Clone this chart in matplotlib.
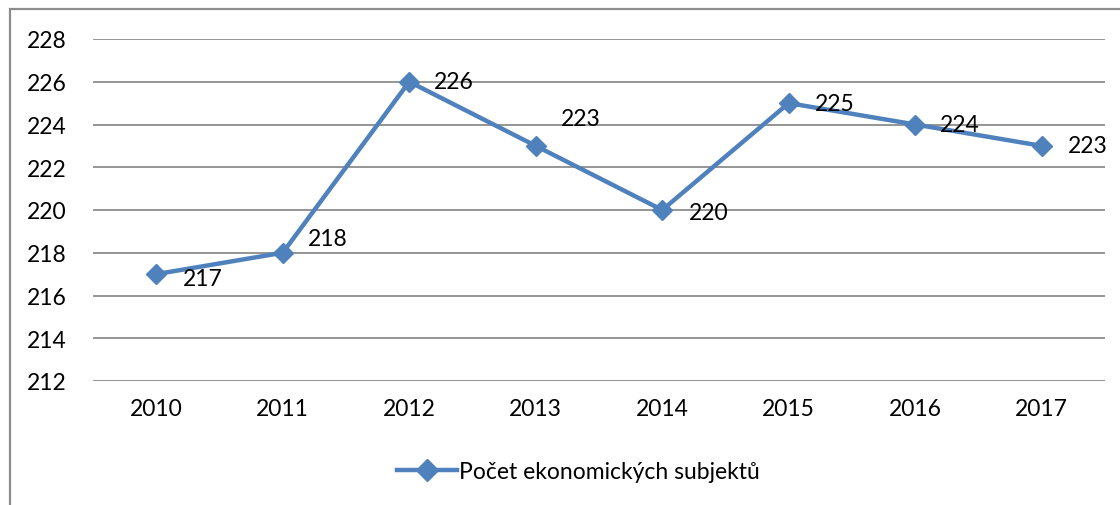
import matplotlib.pyplot as plt
from matplotlib.patches import Rectangle

# --- data ---
years = ['2010', '2011', '2012', '2013', '2014', '2015', '2016', '2017']
values = [217, 218, 226, 223, 220, 225, 224, 223]
series_name = 'Počet ekonomických subjektů'
y_ticks = [212, 214, 216, 218, 220, 222, 224, 226, 228]

# label offsets in points (x, y)
label_off = [(19, -3), (18, 10), (18, 0), (18, 20), (19, -2), (19, 0), (18, 0), (19, 0)]

plt.rcParams['font.family'] = ['Lato', 'DejaVu Sans']
fs = 16.5

fig = plt.figure(figsize=(11.2, 5.06), dpi=100)
ax = fig.add_axes([93 / 1120, 1 - 382 / 506, (1105 - 93) / 1120, (382 - 40) / 506])

blue = '#4F81BD'
x = range(len(years))
ax.plot(x, values, color=blue, lw=3.2, marker='D', markersize=10,
        label=series_name, solid_joinstyle='miter', zorder=3)

for i, v in enumerate(values):
    ax.annotate(str(v), (i, v), xytext=label_off[i], textcoords='offset points',
                ha='left', va='center', fontsize=fs, color='black')

ax.set_xlim(-0.5, len(years) - 0.5)
ax.set_ylim(212, 228)
ax.set_yticks(y_ticks)
ax.set_xticks(list(x))
ax.set_xticklabels(years)
ax.tick_params(axis='both', length=0, labelsize=fs, colors='black')
ax.tick_params(axis='y', pad=19)
ax.tick_params(axis='x', pad=12)
ax.grid(axis='y', color='#8c8c8c', lw=1.3)
ax.set_axisbelow(True)
for s in ax.spines.values():
    s.set_visible(False)

leg = ax.legend(loc='center', bbox_to_anchor=(0.48, -0.265), frameon=False,
                fontsize=fs, handlelength=2.6, handletextpad=0.1, markerscale=1.1)

# chart frame (cut at right and bottom)
fig.patches.append(Rectangle((10 / 1120, -0.1), 1.2, 1.1 - 10 / 506,
                             transform=fig.transFigure, fill=False,
                             edgecolor='#8c8c8c', lw=1.6))

fig.savefig('out.png', dpi=100)
